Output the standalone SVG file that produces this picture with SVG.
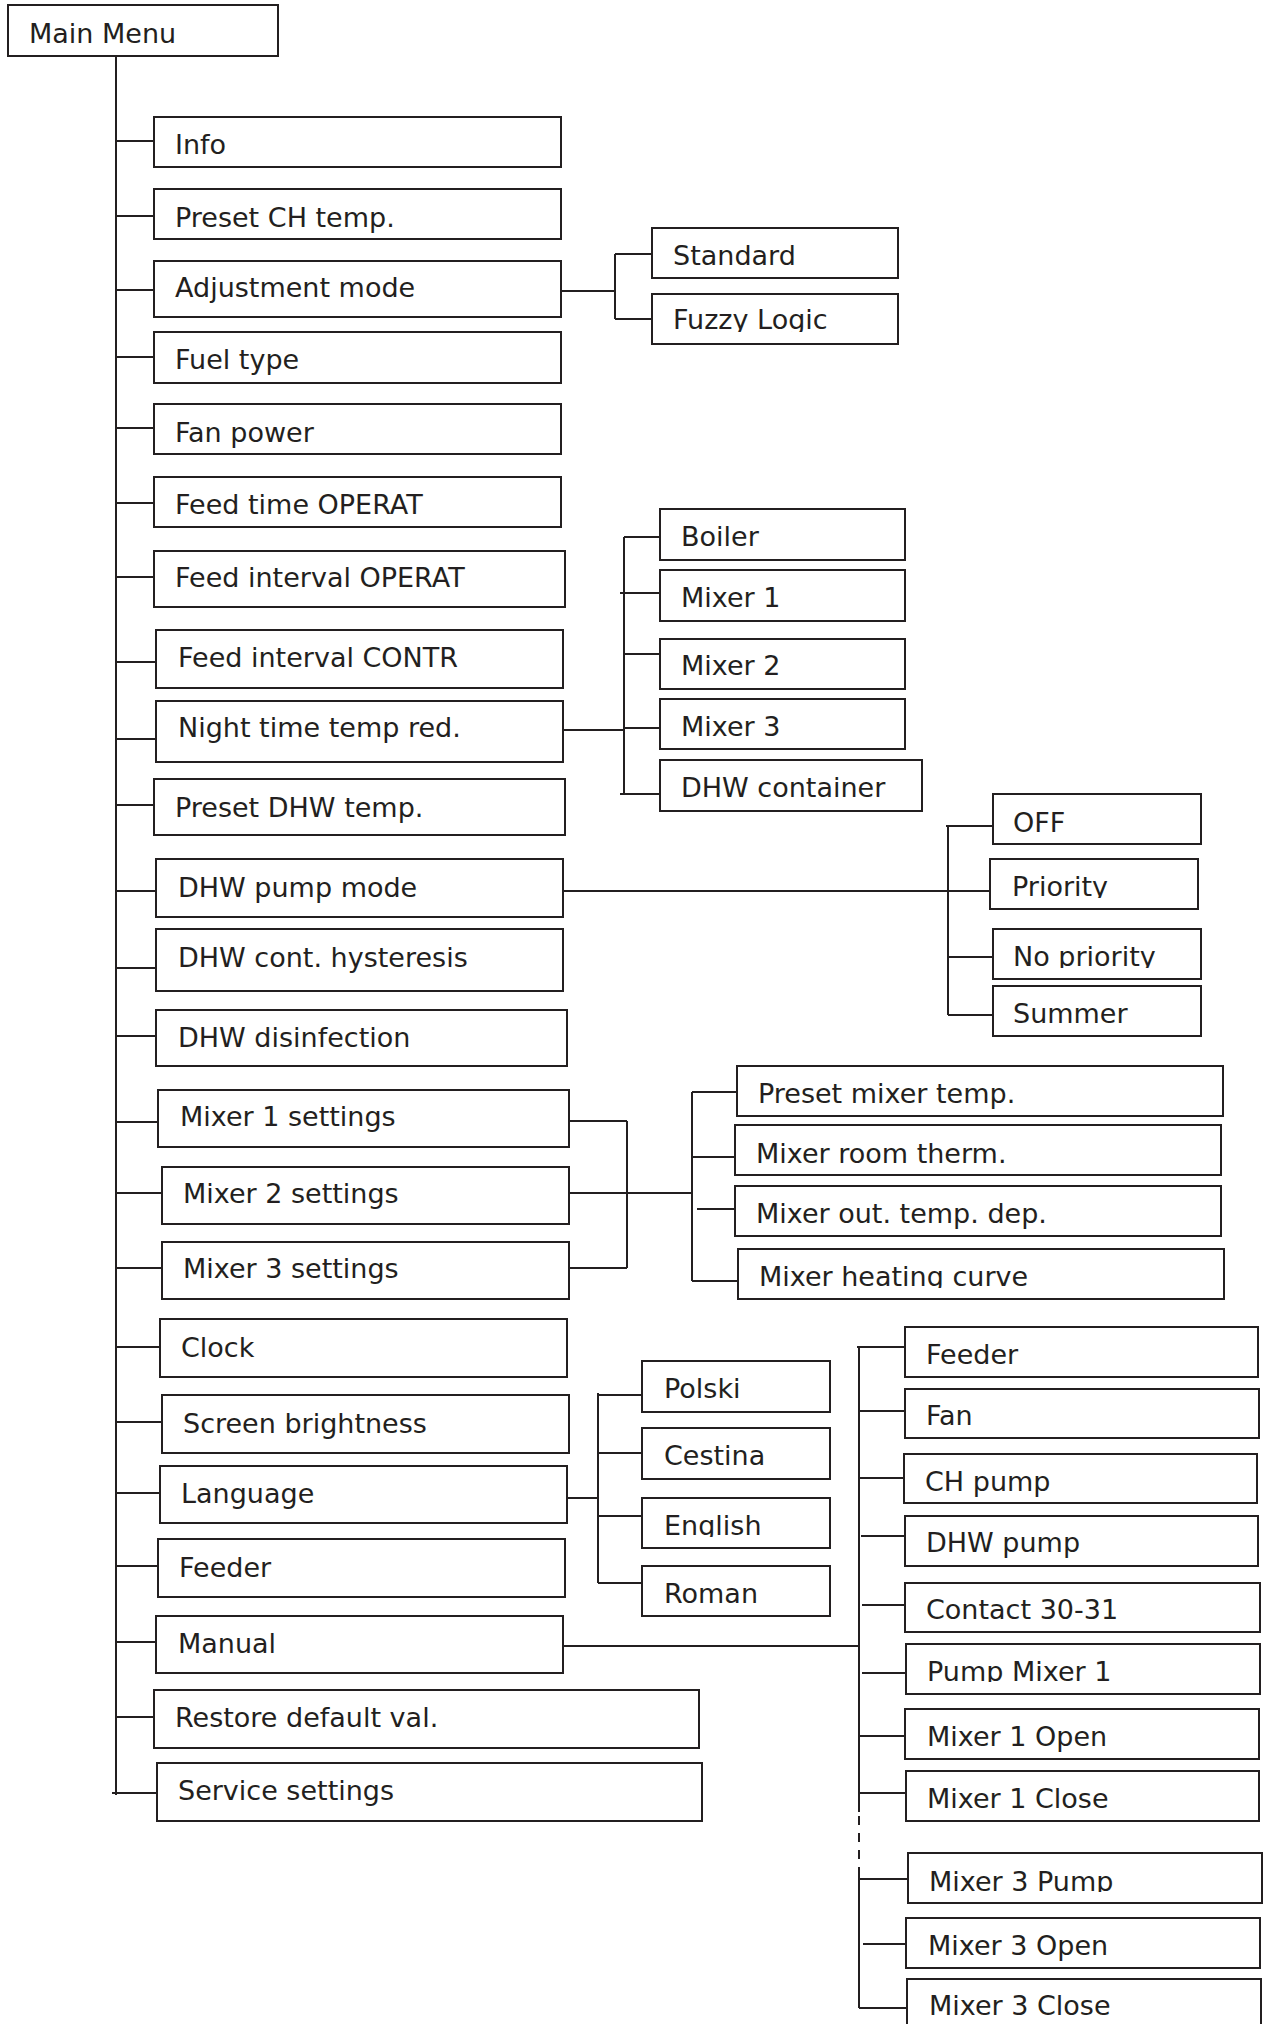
<svg xmlns="http://www.w3.org/2000/svg" width="1266" height="2024" viewBox="0 0 1266 2024">
<style>
.box{fill:#fff;stroke:#231f20;stroke-width:2}
text{font-family:"DejaVu Sans",Verdana,sans-serif;font-size:27px;fill:#231f20}
.ln{fill:none;stroke:#231f20;stroke-width:2}
.dash{fill:none;stroke:#231f20;stroke-width:2;stroke-dasharray:9 8}
</style>
<defs>
<clipPath id="cFuzzy" clipPathUnits="userSpaceOnUse"><rect x="640" y="290" width="270" height="42"/></clipPath>
<clipPath id="cPrio" clipPathUnits="userSpaceOnUse"><rect x="985" y="855" width="220" height="43"/></clipPath>
<clipPath id="cNoPrio" clipPathUnits="userSpaceOnUse"><rect x="985" y="925" width="220" height="43"/></clipPath>
<clipPath id="cCurve" clipPathUnits="userSpaceOnUse"><rect x="730" y="1245" width="500" height="43"/></clipPath>
<clipPath id="cEng" clipPathUnits="userSpaceOnUse"><rect x="635" y="1494" width="200" height="43"/></clipPath>
<clipPath id="cPM1" clipPathUnits="userSpaceOnUse"><rect x="900" y="1640" width="365" height="42"/></clipPath>
<clipPath id="cM3P" clipPathUnits="userSpaceOnUse"><rect x="900" y="1849" width="365" height="43"/></clipPath>
</defs>

<g id="connectors">
<path class="ln" d="M116 56V1795M112 1793H157"/>
<path class="ln" d="M116 141H154M116 216H154M116 290H154M116 357H154M116 428H154M116 503H154M116 577H154M116 662H156M116 739H156M116 805H154M116 891H156M116 968H156M116 1036H156M116 1122H158M116 1193H162M116 1268H162M116 1347H160M116 1422H162M116 1493H160M116 1566H158M116 1642H156M116 1717H154"/>
<path class="ln" d="M561 291H615M615 254V319M615 254H652M615 319H652"/>
<path class="ln" d="M563 730H624M624 537V794M624 537H660M620 593H660M624 654H660M624 728H660M620 794H660"/>
<path class="ln" d="M563 891H990M948 826V1015M946 826H993M948 957H993M948 1015H993"/>
<path class="ln" d="M569 1121H627M569 1268H627M627 1121V1268M569 1193H692M692 1092V1281M692 1092H737M692 1157H735M697 1209H735M692 1281H738"/>
<path class="ln" d="M567 1498H598M598 1393V1583M598 1395H642M598 1453H642M598 1516H642M598 1583H642"/>
<path class="ln" d="M563 1646H859M859 1347V1812M859 1868V2008"/>
<path class="dash" d="M859 1816V1868"/>
<path class="ln" d="M857 1347H905M859 1411H905M859 1478H904M861 1536H905M862 1605H905M862 1673H906M859 1736H905M859 1793H906M859 1879H908M863 1944H906M859 2008H907"/>
</g>

<g id="n-main"><rect class="box" x="8" y="5" width="270" height="51"/><text x="29" y="43">Main Menu</text></g>
<g id="n-info"><rect class="box" x="154" y="117" width="407" height="50"/><text x="175" y="154">Info</text></g>
<g id="n-presetch"><rect class="box" x="154" y="189" width="407" height="50"/><text x="175" y="227">Preset CH temp.</text></g>
<g id="n-adjust"><rect class="box" x="154" y="261" width="407" height="56"/><text x="175" y="297">Adjustment mode</text></g>
<g id="n-fuel"><rect class="box" x="154" y="332" width="407" height="51"/><text x="175" y="369">Fuel type</text></g>
<g id="n-fan"><rect class="box" x="154" y="404" width="407" height="50"/><text x="175" y="442">Fan power</text></g>
<g id="n-feedtime"><rect class="box" x="154" y="477" width="407" height="50"/><text x="175" y="514">Feed time OPERAT</text></g>
<g id="n-feedint"><rect class="box" x="154" y="551" width="411" height="56"/><text x="175" y="587">Feed interval OPERAT</text></g>
<g id="n-feedcontr"><rect class="box" x="156" y="630" width="407" height="58"/><text x="178" y="667">Feed interval CONTR</text></g>
<g id="n-night"><rect class="box" x="156" y="701" width="407" height="61"/><text x="178" y="737">Night time temp red.</text></g>
<g id="n-presetdhw"><rect class="box" x="154" y="779" width="411" height="56"/><text x="175" y="817">Preset DHW temp.</text></g>
<g id="n-dhwpump"><rect class="box" x="156" y="859" width="407" height="58"/><text x="178" y="897">DHW pump mode</text></g>
<g id="n-dhwhyst"><rect class="box" x="156" y="929" width="407" height="62"/><text x="178" y="967">DHW cont. hysteresis</text></g>
<g id="n-dhwdis"><rect class="box" x="156" y="1010" width="411" height="56"/><text x="178" y="1047">DHW disinfection</text></g>
<g id="n-mix1"><rect class="box" x="158" y="1090" width="411" height="57"/><text x="180" y="1126">Mixer 1 settings</text></g>
<g id="n-mix2"><rect class="box" x="162" y="1167" width="407" height="57"/><text x="183" y="1203">Mixer 2 settings</text></g>
<g id="n-mix3"><rect class="box" x="162" y="1242" width="407" height="57"/><text x="183" y="1278">Mixer 3 settings</text></g>
<g id="n-clock"><rect class="box" x="160" y="1319" width="407" height="58"/><text x="181" y="1357">Clock</text></g>
<g id="n-screen"><rect class="box" x="162" y="1395" width="407" height="58"/><text x="183" y="1433">Screen brightness</text></g>
<g id="n-lang"><rect class="box" x="160" y="1466" width="407" height="57"/><text x="181" y="1503">Language</text></g>
<g id="n-feeder"><rect class="box" x="158" y="1539" width="407" height="58"/><text x="179" y="1577">Feeder</text></g>
<g id="n-manual"><rect class="box" x="156" y="1616" width="407" height="57"/><text x="178" y="1653">Manual</text></g>
<g id="n-restore"><rect class="box" x="154" y="1690" width="545" height="58"/><text x="175" y="1727">Restore default val.</text></g>
<g id="n-service"><rect class="box" x="157" y="1763" width="545" height="58"/><text x="178" y="1800">Service settings</text></g>

<g id="n-standard"><rect class="box" x="652" y="228" width="246" height="50"/><text x="673" y="265">Standard</text></g>
<g id="n-fuzzy"><rect class="box" x="652" y="294" width="246" height="50"/><text x="673" y="329" clip-path="url(#cFuzzy)">Fuzzy Logic</text></g>

<g id="n-boiler"><rect class="box" x="660" y="509" width="245" height="51"/><text x="681" y="546">Boiler</text></g>
<g id="n-nmix1"><rect class="box" x="660" y="570" width="245" height="51"/><text x="681" y="607">Mixer 1</text></g>
<g id="n-nmix2"><rect class="box" x="660" y="639" width="245" height="50"/><text x="681" y="675">Mixer 2</text></g>
<g id="n-nmix3"><rect class="box" x="660" y="699" width="245" height="50"/><text x="681" y="736">Mixer 3</text></g>
<g id="n-dhwcont"><rect class="box" x="660" y="760" width="262" height="51"/><text x="681" y="797">DHW container</text></g>

<g id="n-off"><rect class="box" x="993" y="794" width="208" height="50"/><text x="1013" y="832">OFF</text></g>
<g id="n-priority"><rect class="box" x="990" y="859" width="208" height="50"/><text x="1012" y="896" clip-path="url(#cPrio)">Priority</text></g>
<g id="n-nopriority"><rect class="box" x="993" y="929" width="208" height="50"/><text x="1013" y="966" clip-path="url(#cNoPrio)">No priority</text></g>
<g id="n-summer"><rect class="box" x="993" y="986" width="208" height="50"/><text x="1013" y="1023">Summer</text></g>

<g id="n-presetmix"><rect class="box" x="737" y="1066" width="486" height="50"/><text x="758" y="1103">Preset mixer temp.</text></g>
<g id="n-mixroom"><rect class="box" x="735" y="1125" width="486" height="50"/><text x="756" y="1163">Mixer room therm.</text></g>
<g id="n-mixout"><rect class="box" x="735" y="1186" width="486" height="50"/><text x="756" y="1223">Mixer out. temp. dep.</text></g>
<g id="n-mixcurve"><rect class="box" x="738" y="1249" width="486" height="50"/><text x="759" y="1286" clip-path="url(#cCurve)">Mixer heating curve</text></g>

<g id="n-polski"><rect class="box" x="642" y="1361" width="188" height="51"/><text x="664" y="1398">Polski</text></g>
<g id="n-cestina"><rect class="box" x="642" y="1428" width="188" height="51"/><text x="664" y="1465">Cestina</text></g>
<g id="n-english"><rect class="box" x="642" y="1498" width="188" height="50"/><text x="664" y="1535" clip-path="url(#cEng)">English</text></g>
<g id="n-roman"><rect class="box" x="642" y="1566" width="188" height="50"/><text x="664" y="1603">Roman</text></g>

<g id="n-mfeeder"><rect class="box" x="905" y="1327" width="353" height="50"/><text x="926" y="1364">Feeder</text></g>
<g id="n-mfan"><rect class="box" x="905" y="1389" width="354" height="49"/><text x="926" y="1425">Fan</text></g>
<g id="n-mchpump"><rect class="box" x="904" y="1454" width="353" height="49"/><text x="925" y="1491">CH pump</text></g>
<g id="n-mdhwpump"><rect class="box" x="905" y="1516" width="353" height="50"/><text x="926" y="1552">DHW pump</text></g>
<g id="n-mcontact"><rect class="box" x="905" y="1583" width="355" height="49"/><text x="926" y="1619">Contact 30-31</text></g>
<g id="n-mpump1"><rect class="box" x="906" y="1644" width="354" height="50"/><text x="927" y="1681" clip-path="url(#cPM1)">Pump Mixer 1</text></g>
<g id="n-m1open"><rect class="box" x="905" y="1709" width="354" height="50"/><text x="927" y="1746">Mixer 1 Open</text></g>
<g id="n-m1close"><rect class="box" x="906" y="1771" width="353" height="50"/><text x="927" y="1808">Mixer 1 Close</text></g>
<g id="n-m3pump"><rect class="box" x="908" y="1853" width="354" height="50"/><text x="929" y="1891" clip-path="url(#cM3P)">Mixer 3 Pump</text></g>
<g id="n-m3open"><rect class="box" x="906" y="1918" width="354" height="50"/><text x="928" y="1955">Mixer 3 Open</text></g>
<g id="n-m3close"><rect class="box" x="907" y="1979" width="354" height="60"/><text x="929" y="2015">Mixer 3 Close</text></g>
</svg>
